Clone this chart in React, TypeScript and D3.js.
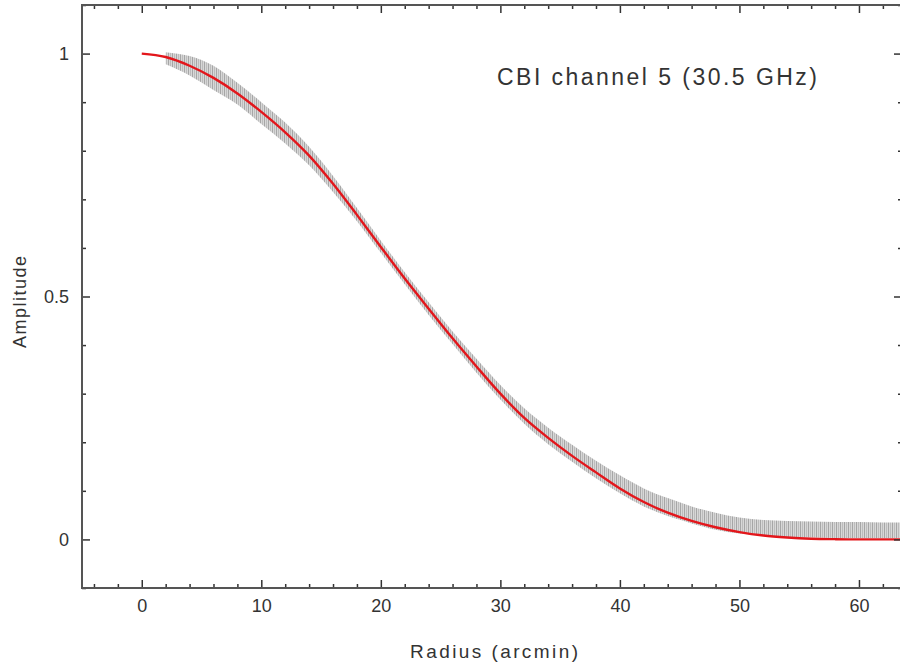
import React, { useEffect, useRef } from 'react';
import * as d3 from 'd3';

const modelRadius = [0, 2, 4, 6, 8, 10, 12, 14, 16, 18, 20, 22, 24, 26, 28, 30, 32, 34, 36, 38, 40, 42, 44, 46, 48, 50, 52, 54, 56, 58, 60, 62, 64];
const modelAmp = [1.0, 0.993, 0.975, 0.95, 0.918, 0.88, 0.838, 0.79, 0.732, 0.668, 0.602, 0.537, 0.475, 0.414, 0.356, 0.3, 0.25, 0.209, 0.172, 0.138, 0.105, 0.077, 0.055, 0.038, 0.025, 0.015, 0.008, 0.004, 0.0015, 0.0005, 0, 0, 0];

// measured data (grey) - spread of the noisy points, lower and upper edge
const dataRadius = [2, 4, 6, 8, 10, 12, 14, 16, 18, 20, 22, 24, 26, 28, 30, 32, 34, 36, 38, 40, 42, 44, 46, 48, 50, 52, 54, 56, 58, 60, 62, 64];
const dataLower = [0.978, 0.955, 0.925, 0.895, 0.855, 0.815, 0.77, 0.715, 0.655, 0.59, 0.525, 0.462, 0.402, 0.343, 0.288, 0.238, 0.196, 0.16, 0.126, 0.095, 0.068, 0.048, 0.033, 0.02, 0.012, 0.008, 0.005, 0.004, 0.003, 0.003, 0.003, 0.003];
const dataUpper = [1.003, 0.995, 0.975, 0.94, 0.9, 0.858, 0.808, 0.748, 0.682, 0.615, 0.55, 0.488, 0.428, 0.372, 0.318, 0.27, 0.23, 0.195, 0.162, 0.132, 0.105, 0.085, 0.068, 0.055, 0.045, 0.04, 0.038, 0.037, 0.036, 0.036, 0.035, 0.035];

const xMajorTicks = [0, 10, 20, 30, 40, 50, 60];
const yMajorTicks = [0, 0.5, 1];

const titleText = 'CBI channel 5 (30.5 GHz)';
const xLabel = 'Radius (arcmin)';
const yLabel = 'Amplitude';

export default function App() {
  const svgRef = useRef<SVGSVGElement>(null);

  useEffect(() => {
    if (!svgRef.current) return;
    const svg = d3.select(svgRef.current);
    svg.selectAll('*').remove();

    const font = '"Liberation Sans", Arial, sans-serif';
    const left = 82, right = 902, top = 5, bottom = 588;

    const x = d3.scaleLinear().domain([-5, 63.6]).range([left, right]);
    const y = d3.scaleLinear().domain([-0.1, 1.1]).range([bottom, top]);

    const defs = svg.append('defs');
    defs.append('clipPath').attr('id', 'plotClip')
      .append('rect').attr('x', left).attr('y', top).attr('width', right - left).attr('height', bottom - top);

    // hairy texture for the noisy data band
    const pat = defs.append('pattern').attr('id', 'hair')
      .attr('patternUnits', 'userSpaceOnUse').attr('width', 4).attr('height', 7);
    pat.append('rect').attr('width', 4).attr('height', 7).attr('fill', '#d4d4d4');
    pat.append('rect').attr('x', 0).attr('width', 1).attr('height', 7).attr('fill', '#9c9c9c');
    pat.append('rect').attr('x', 2).attr('width', 1).attr('height', 7).attr('fill', '#b4b4b4');

    const plot = svg.append('g').attr('clip-path', 'url(#plotClip)');

    const band = dataRadius.map((r, i) => ({ r, lo: dataLower[i], hi: dataUpper[i] }));
    const area = d3.area<{ r: number; lo: number; hi: number }>()
      .x((d) => x(d.r))
      .y0((d) => y(d.lo))
      .y1((d) => y(d.hi))
      .curve(d3.curveMonotoneX);
    plot.append('path').datum(band)
      .attr('d', area)
      .attr('fill', 'url(#hair)')
      .attr('opacity', 0.9);

    const model = modelRadius.map((r, i) => ({ r, a: modelAmp[i] }));
    const line = d3.line<{ r: number; a: number }>()
      .x((d) => x(d.r))
      .y((d) => y(d.a))
      .curve(d3.curveMonotoneX);
    plot.append('path').datum(model)
      .attr('d', line)
      .attr('fill', 'none')
      .attr('stroke', '#e3161b')
      .attr('stroke-width', 2.4);

    // axes - ticks point inward like pgplot
    const xMinor = d3.range(-4, 64, 2).filter((v) => v % 10 !== 0);
    const yMinor = d3.range(-1, 12).map((v) => v / 10).filter((v) => Math.abs(v * 2 - Math.round(v * 2)) > 1e-6);

    const styleAxis = (g: any) => {
      g.select('.domain').remove();
      g.selectAll('line').attr('stroke', '#333').attr('stroke-width', 1.5);
      g.selectAll('text').attr('fill', '#333').attr('font-size', 18).attr('font-family', font);
    };

    svg.append('g').attr('transform', 'translate(0,' + bottom + ')')
      .call(d3.axisBottom(x).tickValues(xMajorTicks).tickSize(-8).tickPadding(11).tickFormat((d) => String(d)))
      .call(styleAxis);
    svg.append('g').attr('transform', 'translate(0,' + bottom + ')')
      .call(d3.axisBottom(x).tickValues(xMinor).tickSize(-4).tickFormat(() => ''))
      .call(styleAxis);
    svg.append('g').attr('transform', 'translate(0,' + top + ')')
      .call(d3.axisTop(x).tickValues(xMajorTicks).tickSize(-8).tickFormat(() => ''))
      .call(styleAxis);
    svg.append('g').attr('transform', 'translate(0,' + top + ')')
      .call(d3.axisTop(x).tickValues(xMinor).tickSize(-4).tickFormat(() => ''))
      .call(styleAxis);

    svg.append('g').attr('transform', 'translate(' + left + ',0)')
      .call(d3.axisLeft(y).tickValues(yMajorTicks).tickSize(-8).tickPadding(13).tickFormat((d) => String(d)))
      .call(styleAxis);
    svg.append('g').attr('transform', 'translate(' + left + ',0)')
      .call(d3.axisLeft(y).tickValues(yMinor).tickSize(-4).tickFormat(() => ''))
      .call(styleAxis);
    svg.append('g').attr('transform', 'translate(' + right + ',0)')
      .call(d3.axisRight(y).tickValues(yMajorTicks).tickSize(-8).tickFormat(() => ''))
      .call(styleAxis);
    svg.append('g').attr('transform', 'translate(' + right + ',0)')
      .call(d3.axisRight(y).tickValues(yMinor).tickSize(-4).tickFormat(() => ''))
      .call(styleAxis);

    // frame
    svg.append('rect')
      .attr('x', left).attr('y', top)
      .attr('width', right - left).attr('height', bottom - top)
      .attr('fill', 'none').attr('stroke', '#555').attr('stroke-width', 2);

    // labels
    svg.append('text')
      .attr('x', 497).attr('y', 85)
      .attr('font-family', font).attr('font-size', 23).attr('fill', '#333')
      .attr('textLength', 320).attr('lengthAdjust', 'spacing')
      .text(titleText);

    svg.append('text')
      .attr('x', 410).attr('y', 658)
      .attr('font-family', font).attr('font-size', 19).attr('fill', '#333')
      .attr('textLength', 168).attr('lengthAdjust', 'spacing')
      .text(xLabel);

    svg.append('text')
      .attr('transform', 'translate(26,' + 302 + ') rotate(-90)')
      .attr('text-anchor', 'middle')
      .attr('font-family', font).attr('font-size', 18).attr('fill', '#333')
      .attr('textLength', 92).attr('lengthAdjust', 'spacing')
      .text(yLabel);
  }, []);

  return (
    <svg
      ref={svgRef}
      width={900}
      height={667}
      style={{ position: 'absolute', left: 0, top: 0, background: '#fff', display: 'block' }}
    />
  );
}
